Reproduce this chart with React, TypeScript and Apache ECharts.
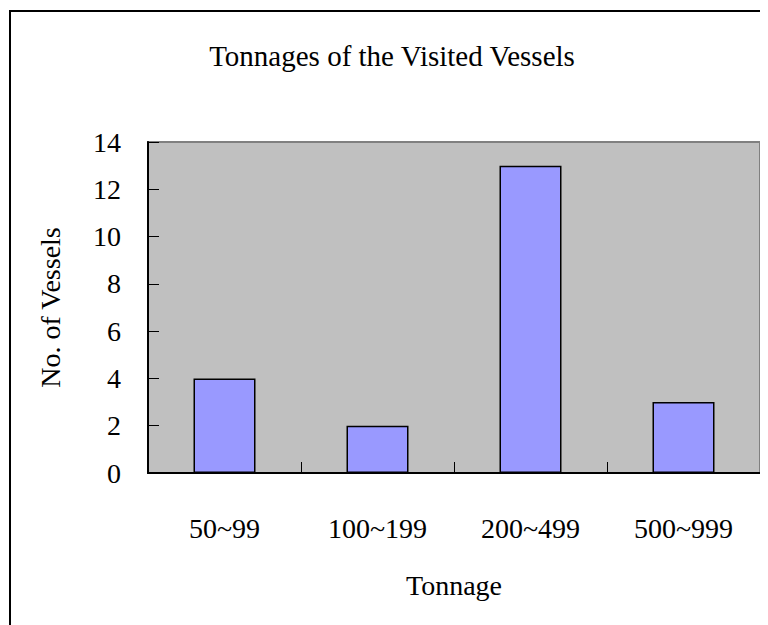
import React, { useEffect, useRef } from "react";
import * as echarts from "echarts";

const categories = ["50~99", "100~199", "200~499", "500~999"];
const vesselCounts = [4, 2, 13, 3];
const titleText = "Tonnages of the Visited Vessels";
const xAxisName = "Tonnage";
const yAxisName = "No. of Vessels";

const FONT = "'Liberation Serif', 'Times New Roman', serif";

export default function App() {
  const ref = useRef<HTMLDivElement>(null);
  useEffect(() => {
    if (!ref.current) return;
    const chart = echarts.init(ref.current, null, { renderer: "svg" });
    chart.setOption({
      animation: false,
      backgroundColor: "#ffffff",
      title: {
        text: titleText,
        left: "center",
        top: 28,
        textStyle: { fontFamily: FONT, fontSize: 29, fontWeight: "normal", color: "#000" },
      },
      graphic: [
        {
          type: "rect",
          shape: { x: 2, y: 3, width: 1000, height: 1000 },
          style: { fill: "none", stroke: "#000", lineWidth: 2 },
          silent: true,
        },
      ],
      grid: {
        left: 140,
        top: 134,
        width: 612,
        height: 331,
        show: true,
        backgroundColor: "#c0c0c0",
        borderColor: "#808080",
        borderWidth: 2,
      },
      xAxis: {
        type: "category",
        data: categories,
        name: xAxisName,
        nameLocation: "middle",
        nameGap: 98,
        nameTextStyle: { fontFamily: FONT, fontSize: 28, color: "#000" },
        axisLine: { show: true, lineStyle: { color: "#000", width: 2 } },
        axisTick: { show: true, inside: true, length: 11, lineStyle: { color: "#000", width: 1 } },
        axisLabel: { fontFamily: FONT, fontSize: 28, color: "#000", margin: 41 },
        splitLine: { show: false },
      },
      yAxis: {
        type: "value",
        min: 0,
        max: 14,
        interval: 2,
        name: yAxisName,
        nameLocation: "middle",
        nameGap: 84,
        nameTextStyle: { fontFamily: FONT, fontSize: 28, color: "#000" },
        axisLine: { show: true, lineStyle: { color: "#000", width: 2 } },
        axisTick: { show: true, inside: true, length: 11, lineStyle: { color: "#000", width: 1 } },
        axisLabel: { fontFamily: FONT, fontSize: 28, color: "#000", margin: 27 },
        splitLine: { show: false },
      },
      series: [
        {
          type: "bar",
          data: vesselCounts,
          barWidth: 62,
          itemStyle: { color: "#9999ff", borderColor: "#000", borderWidth: 1.5 },
        },
      ],
    });
    return () => chart.dispose();
  }, []);
  return <div ref={ref} style={{ width: 768, height: 625 }} />;
}
